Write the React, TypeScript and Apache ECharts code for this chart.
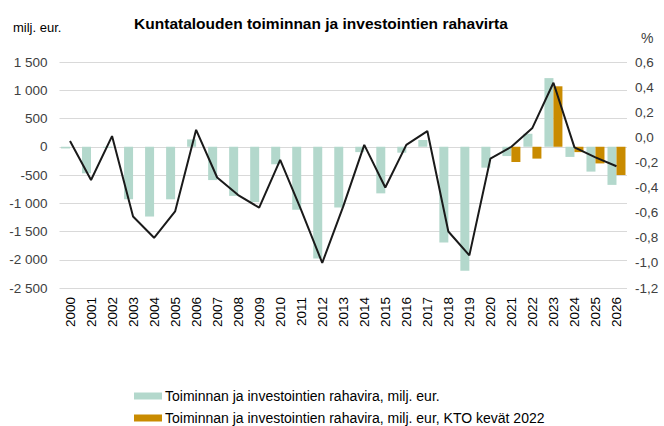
import React, { useEffect, useRef } from "react";
import * as echarts from "echarts";

const years = ["2000","2001","2002","2003","2004","2005","2006","2007","2008","2009","2010","2011","2012","2013","2014","2015","2016","2017","2018","2019","2020","2021","2022","2023","2024","2025","2026"];
const cashflow = [-30,-470,-20,-930,-1235,-930,130,-590,-870,-980,-310,-1115,-1980,-1075,-95,-825,-105,120,-1695,-2195,-370,-165,230,1215,-180,-440,-675];
const cashflowKTO: (number | null)[] = [null,null,null,null,null,null,null,null,null,null,null,null,null,null,null,null,null,null,null,null,null,-270,-210,1070,-95,-295,-500];
const percentLine = [-0.03,-0.34,0.01,-0.63,-0.8,-0.59,0.06,-0.32,-0.46,-0.56,-0.18,-0.58,-1.0,-0.55,-0.06,-0.4,-0.06,0.05,-0.75,-0.94,-0.17,-0.075,0.075,0.435,-0.08,-0.16,-0.23];
const seriesNames = ["Toiminnan ja investointien rahavira, milj. eur.", "Toiminnan ja investointien rahavira, milj. eur, KTO kevät 2022"];

const FONT = "Liberation Sans, Arial, sans-serif";
const TXT = "#404040";
const AX = 13.5;

const legendBase = {
  orient: "horizontal",
  left: 134,
  padding: 0,
  itemWidth: 28, itemHeight: 7,
  icon: "rect",
  textStyle: { fontSize: 14, color: "#000", fontFamily: FONT, padding: [0, 0, 0, -2] },
};

export default function App() {
  const ref = useRef<HTMLDivElement>(null);
  useEffect(() => {
    const chart = echarts.init(ref.current!, null, { renderer: "svg" });
    chart.setOption({
      animation: false,
      textStyle: { fontFamily: FONT },
      title: {
        text: "Kuntatalouden toiminnan ja investointien rahavirta",
        left: 316, top: 10, textAlign: "center",
        textStyle: { fontSize: 15.5, fontWeight: "bold", color: "#000", fontFamily: FONT },
      },
      graphic: [
        { type: "text", left: 13, top: 21, style: { text: "milj. eur.", fontSize: 13, fill: "#000", fontFamily: FONT } },
        { type: "text", left: 641, top: 31, style: { text: "%", fontSize: 14, fill: TXT, fontFamily: FONT } },
      ],
      legend: [
        { ...legendBase, top: 389, data: [seriesNames[0]] },
        { ...legendBase, top: 411, data: [seriesNames[1]] },
      ],
      grid: { left: 59.5, right: 37, top: 62, bottom: 138 },
      xAxis: {
        type: "category",
        data: years,
        axisLine: { show: false },
        axisTick: { show: false },
        axisLabel: { rotate: 90, fontSize: AX, color: "#000", margin: 9, interval: 0, fontFamily: FONT },
      },
      yAxis: [
        {
          type: "value", min: -2500, max: 1500, interval: 500,
          axisLine: { show: false }, axisTick: { show: false },
          splitLine: { lineStyle: { color: "#d9d9d9", width: 1 } },
          axisLabel: {
            fontSize: AX, color: TXT, margin: 12, fontFamily: FONT,
            formatter: (v: number) => {
              const s = Math.abs(v).toString().replace(/\B(?=(\d{3})+(?!\d))/g, " ");
              return (v < 0 ? "-" : "") + s;
            },
          },
        },
        {
          type: "value", min: -1.2, max: 0.6, interval: 0.2, alignTicks: false,
          axisLine: { show: false }, axisTick: { show: false }, splitLine: { show: false },
          axisLabel: {
            fontSize: AX, color: TXT, margin: 8, fontFamily: FONT,
            formatter: (v: number) => v.toFixed(1).replace(".", ","),
          },
        },
      ],
      series: [
        { name: seriesNames[0], type: "bar", data: cashflow, barWidth: 9, barGap: "0%", itemStyle: { color: "#b3d8cc" } },
        { name: seriesNames[1], type: "bar", data: cashflowKTO, barWidth: 9, barGap: "0%", itemStyle: { color: "#c98b00" } },
        { name: "line", type: "line", yAxisIndex: 1, data: percentLine, showSymbol: false, symbol: "none",
          lineStyle: { color: "#1a1a1a", width: 2 }, z: 5 },
      ],
    });
    return () => chart.dispose();
  }, []);
  return <div ref={ref} style={{ width: 664, height: 426, position: "absolute", left: 0, top: 0 }} />;
}
